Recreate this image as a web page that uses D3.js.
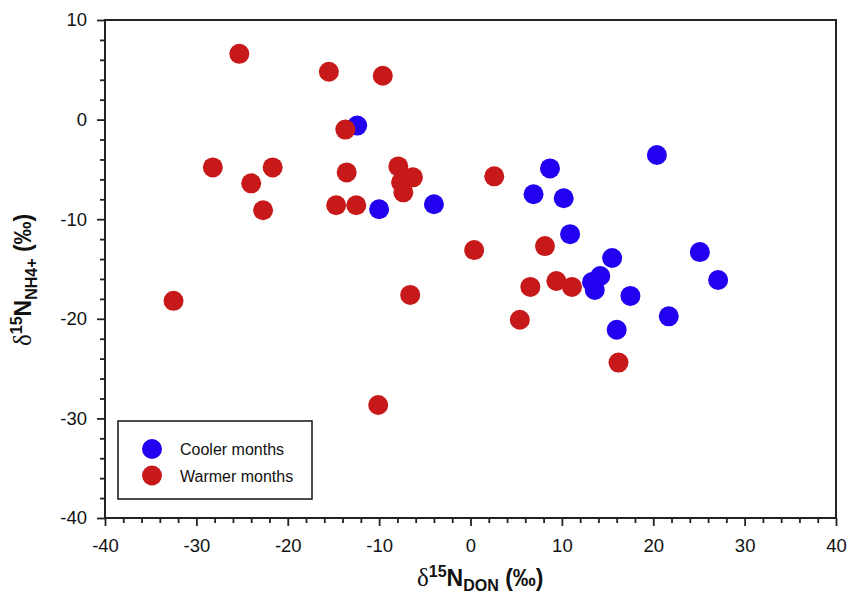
<!DOCTYPE html>
<html><head><meta charset="utf-8">
<script src="https://cdn.jsdelivr.net/npm/d3@7"></script>
<style>body{margin:0;background:#fff}svg{display:block}</style>
</head><body>
<svg id="c" width="849" height="595"></svg>
<script>
// Data (δ15N DON, δ15N NH4+)
const coolerX = [-12.4, -10.0, -4.0, 6.9, 8.7, 10.2, 10.9, 13.3, 14.2, 13.6, 15.5, 16.0, 17.5, 20.4, 21.7, 25.1, 27.1];
const coolerY = [-0.6, -9.0, -8.5, -7.5, -4.9, -7.9, -11.5, -16.3, -15.7, -17.1, -13.9, -21.1, -17.7, -3.55, -19.75, -13.3, -16.1];
const warmerX = [-25.3, -15.5, -9.6, -13.7, -28.2, -21.65, -24.0, -22.7, -13.55, -14.7, -12.5, -7.9, -6.3, -7.6, -7.35, 2.6, -32.5, 0.4, -6.6, -10.1, 8.15, 6.55, 9.4, 11.1, 5.4, 16.2];
const warmerY = [6.6, 4.8, 4.4, -1.0, -4.8, -4.8, -6.4, -9.1, -5.3, -8.6, -8.6, -4.7, -5.8, -6.3, -7.3, -5.7, -18.2, -13.1, -17.6, -28.65, -12.7, -16.8, -16.2, -16.8, -20.1, -24.4];
const xTicks = [-40, -30, -20, -10, 0, 10, 20, 30, 40];
const yTicks = [-40, -30, -20, -10, 0, 10];
const seriesNames = ["Cooler months", "Warmer months"];
const seriesColors = ["#2200f0", "#c8191a"];

const svg = d3.select("#c");
const L = 105, R = 836, T = 20, B = 518;
const x = d3.scaleLinear().domain([-40, 40]).range([L, R]);
const y = d3.scaleLinear().domain([-40, 10]).range([B, T]);
const axisColor = "#222";
const font = "'Liberation Sans', Arial, sans-serif";

const xMinor = d3.range(-40, 41, 2).filter(v => v % 10 !== 0);
const yMinor = d3.range(-40, 11, 2).filter(v => v % 10 !== 0);

function styleAxis(g) {
  g.selectAll("path").remove();
  g.selectAll("line").attr("stroke", axisColor).attr("stroke-width", 1.8);
  g.selectAll("text").attr("font-family", font).attr("font-size", 18.5).attr("fill", "#111");
}

svg.append("g").attr("transform", `translate(0,${B})`)
  .call(d3.axisBottom(x).tickValues(xMinor).tickSize(5).tickFormat(""))
  .call(styleAxis);
svg.append("g").attr("transform", `translate(0,${B})`)
  .call(d3.axisBottom(x).tickValues(xTicks).tickSize(8).tickPadding(13))
  .call(styleAxis)
  .selectAll("text").text(d => d < 0 ? "-" + Math.abs(d) : d);
svg.append("g").attr("transform", `translate(${L},0)`)
  .call(d3.axisLeft(y).tickValues(yMinor).tickSize(5).tickFormat(""))
  .call(styleAxis);
svg.append("g").attr("transform", `translate(${L},0)`)
  .call(d3.axisLeft(y).tickValues(yTicks).tickSize(8).tickPadding(10))
  .call(styleAxis)
  .selectAll("text").text(d => d < 0 ? "-" + Math.abs(d) : d);

// frame
svg.append("rect").attr("x", L).attr("y", T).attr("width", R - L).attr("height", B - T)
  .attr("fill", "none").attr("stroke", axisColor).attr("stroke-width", 2);

// points
const r = 10;
svg.append("g").selectAll("circle").data(d3.zip(coolerX, coolerY)).join("circle")
  .attr("cx", d => x(d[0])).attr("cy", d => y(d[1])).attr("r", r).attr("fill", seriesColors[0]);
svg.append("g").selectAll("circle").data(d3.zip(warmerX, warmerY)).join("circle")
  .attr("cx", d => x(d[0])).attr("cy", d => y(d[1])).attr("r", r).attr("fill", seriesColors[1]);

// legend
const lg = svg.append("g");
lg.append("rect").attr("x", 118).attr("y", 421).attr("width", 194).attr("height", 78)
  .attr("fill", "#fff").attr("stroke", "#111").attr("stroke-width", 1.5);
seriesNames.forEach((n, i) => {
  lg.append("circle").attr("cx", 152).attr("cy", 449 + i * 26.5).attr("r", r).attr("fill", seriesColors[i]);
  lg.append("text").attr("x", 180).attr("y", 455 + i * 26.5).attr("font-family", font)
    .attr("font-size", 16).attr("fill", "#111").text(n);
});

// axis titles
const xt = svg.append("text").attr("x", 417).attr("y", 586).attr("font-family", font)
  .attr("font-weight", "bold").attr("font-size", 23).attr("fill", "#111");
xt.append("tspan").attr("font-family", "'Liberation Serif', serif").attr("font-weight", "normal").attr("font-size", 25).text("δ");
xt.append("tspan").attr("dy", -9).attr("font-size", 16).text("15");
xt.append("tspan").attr("dy", 9).text("N");
xt.append("tspan").attr("dy", 5).attr("font-size", 16).text("DON");
xt.append("tspan").attr("dy", -5).text(" (‰)");

const yt = svg.append("text").attr("transform", "translate(31,346) rotate(-90)").attr("font-family", font)
  .attr("font-weight", "bold").attr("font-size", 23).attr("fill", "#111");
yt.append("tspan").attr("font-family", "'Liberation Serif', serif").attr("font-weight", "normal").attr("font-size", 25).text("δ");
yt.append("tspan").attr("dy", -9).attr("font-size", 16).text("15");
yt.append("tspan").attr("dy", 9).text("N");
yt.append("tspan").attr("dy", 6).attr("font-size", 16).text("NH4+");
yt.append("tspan").attr("dy", -6).text(" (‰)");
</script>
</body></html>
